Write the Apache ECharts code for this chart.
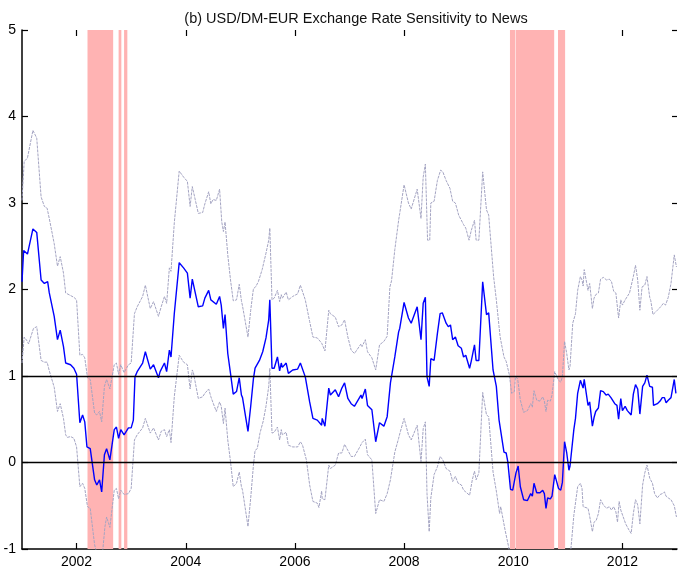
<!DOCTYPE html>
<html>
<head>
    <meta charset="utf-8">
    <title>USD/DM-EUR sensitivity</title>
    <script src="https://cdn.jsdelivr.net/npm/echarts@6/dist/echarts.min.js"></script>
    <style>
        html, body { margin: 0; padding: 0; background: #fff; }
        #main { width: 678px; height: 569px; }
    </style>
</head>
<body>
<div id="main"></div>
<script>
    // x ticks and recession periods (fractional years)
    var yearTicks = [2002, 2004, 2006, 2008, 2010, 2012];
    var recessions = [[2002.20, 2002.67], [2002.77, 2002.82], [2002.87, 2002.93],
                      [2009.94, 2010.04], [2010.05, 2010.75], [2010.82, 2010.95]];

    // estimated sensitivity (blue)
    var sensitivity = [[2001.00,2.09],[2001.03,2.45],[2001.10,2.41],[2001.12,2.41],[2001.20,2.70],[2001.27,2.66],[2001.35,2.11],[2001.41,2.07],[2001.47,2.09],[2001.50,1.96],[2001.52,1.97],[2001.59,1.69],[2001.65,1.42],[2001.70,1.53],[2001.76,1.34],[2001.80,1.15],[2001.83,1.13],[2001.89,1.13],[2001.95,1.09],[2002.00,1.02],[2002.06,0.46],[2002.11,0.55],[2002.15,0.47],[2002.19,0.18],[2002.25,0.16],[2002.33,-0.20],[2002.37,-0.26],[2002.42,-0.20],[2002.46,-0.34],[2002.51,0.09],[2002.55,0.16],[2002.61,0.03],[2002.69,0.38],[2002.73,0.41],[2002.77,0.28],[2002.81,0.38],[2002.87,0.32],[2002.95,0.40],[2003.00,0.40],[2003.04,0.49],[2003.07,0.99],[2003.11,1.05],[2003.21,1.15],[2003.26,1.28],[2003.28,1.27],[2003.35,1.08],[2003.41,1.13],[2003.44,1.11],[2003.50,0.98],[2003.53,1.05],[2003.61,1.15],[2003.65,1.05],[2003.70,1.30],[2003.73,1.22],[2003.79,1.72],[2003.88,2.31],[2003.96,2.25],[2004.03,2.19],
        [2004.08,1.90],[2004.12,2.12],[2004.14,2.11],[2004.23,1.80],[2004.31,1.81],[2004.35,1.90],[2004.42,1.99],[2004.46,1.88],[2004.48,1.87],[2004.56,1.83],[2004.62,1.92],[2004.65,1.82],[2004.69,1.55],[2004.72,1.71],[2004.77,1.26],[2004.82,1.03],[2004.87,0.79],[2004.93,0.82],[2004.98,0.98],[2005.02,0.78],[2005.04,0.75],[2005.14,0.36],[2005.19,0.65],[2005.24,0.97],[2005.27,1.09],[2005.29,1.08],[2005.35,1.18],[2005.41,1.28],[2005.47,1.44],[2005.52,1.65],[2005.54,1.88],[2005.58,1.09],[2005.62,1.09],[2005.68,1.22],[2005.72,1.06],[2005.75,1.15],[2005.77,1.10],[2005.84,1.15],[2005.88,1.03],[2005.96,1.07],[2006.05,1.08],[2006.10,1.15],[2006.12,1.14],[2006.19,0.99],[2006.27,0.70],[2006.33,0.51],[2006.41,0.49],[2006.44,0.51],[2006.49,0.43],[2006.50,0.51],[2006.55,0.42],[2006.57,0.42],[2006.62,0.86],[2006.65,0.78],[2006.74,0.84],[2006.80,0.76],[2006.86,0.86],[2006.91,0.92],[2006.97,0.74],[2007.03,0.68],[2007.09,0.65],
        [2007.21,0.78],[2007.23,0.74],[2007.29,0.85],[2007.33,0.66],[2007.41,0.61],[2007.48,0.24],[2007.55,0.46],[2007.63,0.42],[2007.69,0.53],[2007.75,0.92],[2007.77,0.92],[2007.83,1.22],[2007.90,1.51],[2007.92,1.55],[2008.00,1.85],[2008.02,1.86],[2008.08,1.67],[2008.10,1.66],[2008.13,1.61],[2008.24,1.80],[2008.31,1.42],[2008.35,1.84],[2008.39,1.91],[2008.42,0.99],[2008.46,0.88],[2008.49,1.20],[2008.55,1.18],[2008.61,1.49],[2008.66,1.72],[2008.70,1.73],[2008.77,1.61],[2008.81,1.57],[2008.85,1.59],[2008.89,1.42],[2008.94,1.45],[2008.99,1.35],[2009.05,1.32],[2009.09,1.22],[2009.13,1.24],[2009.20,1.09],[2009.23,1.17],[2009.29,1.36],[2009.32,1.18],[2009.37,1.18],[2009.44,2.09],[2009.51,1.71],[2009.55,1.73],[2009.63,1.07],[2009.69,0.88],[2009.74,0.49],[2009.76,0.47],[2009.83,0.12],[2009.87,0.11],[2009.90,0.01],[2009.95,-0.31],[2009.99,-0.32],
        [2010.05,-0.12],[2010.09,-0.04],[2010.13,-0.28],[2010.19,-0.43],[2010.26,-0.44],[2010.32,-0.36],[2010.35,-0.39],[2010.38,-0.24],[2010.43,-0.35],[2010.49,-0.35],[2010.54,-0.32],[2010.57,-0.36],[2010.60,-0.53],[2010.63,-0.41],[2010.68,-0.42],[2010.71,-0.39],[2010.76,-0.14],[2010.79,-0.16],[2010.83,-0.30],[2010.87,-0.32],[2010.90,-0.23],[2010.94,0.24],[2010.98,0.11],[2011.02,-0.09],[2011.04,-0.04],[2011.11,0.38],[2011.14,0.51],[2011.18,0.80],[2011.23,0.95],[2011.26,0.96],[2011.28,0.86],[2011.30,0.96],[2011.37,0.66],[2011.40,0.70],[2011.45,0.42],[2011.48,0.52],[2011.51,0.59],[2011.56,0.63],[2011.60,0.83],[2011.65,0.82],[2011.70,0.78],[2011.74,0.79],[2011.79,0.75],[2011.82,0.76],[2011.86,0.68],[2011.90,0.66],[2011.93,0.50],[2011.97,0.74],[2012.00,0.60],[2012.05,0.65],[2012.09,0.60],[2012.16,0.55],[2012.20,0.79],[2012.24,0.90],[2012.28,0.85],[2012.32,0.56],[2012.37,0.88],[2012.41,0.92],[2012.45,1.01],[2012.50,0.88],[2012.55,0.87],[2012.57,0.66],[2012.64,0.68],[2012.69,0.71],[2012.73,0.75],[2012.77,0.75],[2012.80,0.69],[2012.84,0.72],[2012.89,0.75],[2012.95,0.96],[2012.98,0.80]];

    // upper confidence band
    var upperBand = [[2001.00,3.03],[2001.04,3.48],[2001.10,3.52],[2001.20,3.84],[2001.27,3.75],[2001.35,3.07],[2001.41,2.96],[2001.46,2.94],[2001.50,2.82],[2001.52,2.84],[2001.59,2.53],[2001.65,2.27],[2001.70,2.38],[2001.76,2.19],[2001.80,1.96],[2001.83,1.97],[2001.89,1.93],[2001.95,1.91],[2002.00,1.88],[2002.06,1.24],[2002.11,1.25],[2002.15,1.21],[2002.20,0.98],[2002.25,0.96],[2002.33,0.57],[2002.37,0.55],[2002.42,0.59],[2002.46,0.47],[2002.51,0.88],[2002.55,0.96],[2002.61,0.85],[2002.69,1.13],[2002.73,1.15],[2002.77,1.02],[2002.81,1.13],[2002.87,1.04],[2002.95,1.13],[2003.00,1.15],[2003.06,1.72],[2003.11,1.80],[2003.21,1.92],[2003.26,2.05],[2003.28,2.03],[2003.35,1.78],[2003.41,1.86],[2003.44,1.84],[2003.50,1.69],[2003.55,1.80],[2003.61,1.92],[2003.65,1.84],[2003.70,2.25],[2003.73,2.21],[2003.79,2.77],[2003.88,3.37],[2003.96,3.30],[2004.03,3.25],
        [2004.08,2.96],[2004.12,3.19],[2004.14,3.17],[2004.23,2.88],[2004.31,2.89],[2004.35,2.99],[2004.42,3.13],[2004.46,2.99],[2004.50,3.04],[2004.56,3.03],[2004.62,3.16],[2004.66,2.78],[2004.69,2.67],[2004.72,2.78],[2004.77,2.40],[2004.82,2.11],[2004.87,1.87],[2004.93,1.88],[2004.98,2.06],[2005.02,1.87],[2005.04,1.81],[2005.14,1.45],[2005.19,1.76],[2005.24,2.01],[2005.28,2.03],[2005.33,2.09],[2005.40,2.23],[2005.47,2.42],[2005.52,2.57],[2005.54,2.71],[2005.58,1.88],[2005.62,1.90],[2005.68,1.99],[2005.72,1.86],[2005.75,1.94],[2005.77,1.90],[2005.84,1.97],[2005.88,1.88],[2005.96,1.92],[2006.05,1.95],[2006.10,2.05],[2006.12,2.03],[2006.19,1.88],[2006.27,1.63],[2006.33,1.45],[2006.41,1.44],[2006.44,1.45],[2006.49,1.38],[2006.55,1.29],[2006.57,1.29],[2006.62,1.76],[2006.65,1.72],[2006.74,1.68],[2006.80,1.57],[2006.86,1.59],[2006.91,1.65],[2006.97,1.45],[2007.03,1.30],[2007.09,1.26],
        [2007.21,1.37],[2007.23,1.34],[2007.29,1.42],[2007.33,1.28],[2007.41,1.21],[2007.48,1.07],[2007.55,1.36],[2007.63,1.40],[2007.69,1.46],[2007.74,2.03],[2007.77,2.10],[2007.83,2.46],[2007.90,2.80],[2007.92,2.88],[2008.00,3.21],[2008.02,3.23],[2008.08,3.00],[2008.10,2.98],[2008.13,2.93],[2008.24,3.16],[2008.31,2.82],[2008.35,3.30],[2008.39,3.45],[2008.43,2.57],[2008.47,2.57],[2008.49,3.00],[2008.55,3.02],[2008.61,3.26],[2008.67,3.38],[2008.71,3.36],[2008.77,3.26],[2008.84,3.17],[2008.89,3.02],[2008.94,3.00],[2009.00,2.86],[2009.09,2.75],[2009.13,2.71],[2009.19,2.57],[2009.23,2.68],[2009.29,2.80],[2009.32,2.57],[2009.37,2.57],[2009.44,3.36],[2009.51,2.92],[2009.55,2.86],[2009.64,2.15],[2009.69,1.88],[2009.74,1.57],[2009.76,1.45],[2009.83,1.22],[2009.87,1.17],[2009.93,1.01],[2009.97,0.80],[2010.02,0.82],
        [2010.04,0.99],[2010.08,0.97],[2010.13,0.72],[2010.19,0.58],[2010.26,0.60],[2010.32,0.68],[2010.35,0.64],[2010.38,0.83],[2010.43,0.72],[2010.49,0.71],[2010.54,0.76],[2010.57,0.71],[2010.60,0.59],[2010.63,0.72],[2010.68,0.71],[2010.71,0.78],[2010.76,1.05],[2010.79,1.03],[2010.83,0.95],[2010.87,0.93],[2010.90,0.99],[2010.94,1.40],[2010.98,1.26],[2011.02,1.07],[2011.04,1.11],[2011.09,1.61],[2011.14,1.72],[2011.18,1.99],[2011.23,2.15],[2011.26,2.11],[2011.28,2.04],[2011.30,2.23],[2011.37,1.99],[2011.40,2.07],[2011.45,1.78],[2011.48,1.90],[2011.51,1.94],[2011.56,1.96],[2011.60,2.12],[2011.65,2.14],[2011.71,2.11],[2011.76,2.12],[2011.80,2.09],[2011.84,1.98],[2011.88,1.96],[2011.93,1.67],[2011.97,1.88],[2012.00,1.82],[2012.05,1.88],[2012.09,1.92],[2012.13,1.96],[2012.20,2.15],[2012.24,2.28],[2012.28,2.11],[2012.32,1.76],[2012.36,2.03],[2012.41,2.05],[2012.45,2.15],[2012.50,1.91],[2012.52,1.87],[2012.56,1.71],[2012.64,1.76],[2012.70,1.80],[2012.75,1.84],[2012.79,1.82],[2012.84,1.91],[2012.89,2.07],[2012.95,2.40],[2012.99,2.26]];

    // lower confidence band
    var lowerBand = [[2001.00,1.15],[2001.04,1.45],[2001.10,1.40],[2001.12,1.37],[2001.21,1.55],[2001.27,1.57],[2001.35,1.18],[2001.41,1.16],[2001.46,1.16],[2001.50,1.06],[2001.52,1.07],[2001.59,0.87],[2001.65,0.59],[2001.70,0.68],[2001.76,0.51],[2001.80,0.32],[2001.83,0.29],[2001.89,0.30],[2001.95,0.28],[2002.00,0.18],[2002.06,-0.28],[2002.11,-0.24],[2002.15,-0.30],[2002.20,-0.51],[2002.25,-0.53],[2002.33,-0.95],[2002.37,-1.05],[2002.42,-1.05],[2002.46,-1.15],[2002.52,-0.74],[2002.55,-0.63],[2002.61,-0.75],[2002.69,-0.32],[2002.73,-0.30],[2002.77,-0.42],[2002.81,-0.32],[2002.87,-0.37],[2002.95,-0.36],[2003.00,-0.30],[2003.06,0.26],[2003.11,0.32],[2003.21,0.40],[2003.26,0.51],[2003.28,0.49],[2003.35,0.34],[2003.41,0.40],[2003.44,0.38],[2003.50,0.26],[2003.55,0.36],[2003.61,0.38],[2003.65,0.30],[2003.70,0.38],[2003.73,0.23],[2003.79,0.76],[2003.88,1.24],[2003.96,1.16],[2004.03,1.13],
        [2004.08,0.85],[2004.12,1.07],[2004.14,1.04],[2004.23,0.74],[2004.31,0.76],[2004.35,0.80],[2004.42,0.85],[2004.46,0.76],[2004.50,0.69],[2004.56,0.59],[2004.62,0.70],[2004.65,0.65],[2004.69,0.45],[2004.72,0.63],[2004.77,0.26],[2004.82,0.01],[2004.87,-0.28],[2004.93,-0.24],[2004.98,-0.11],[2005.02,-0.28],[2005.04,-0.32],[2005.14,-0.74],[2005.19,-0.41],[2005.24,-0.03],[2005.27,0.14],[2005.31,0.16],[2005.36,0.34],[2005.42,0.48],[2005.47,0.65],[2005.52,0.88],[2005.54,1.09],[2005.58,0.34],[2005.62,0.35],[2005.68,0.41],[2005.72,0.26],[2005.75,0.38],[2005.77,0.32],[2005.84,0.35],[2005.88,0.20],[2005.96,0.18],[2006.05,0.18],[2006.10,0.24],[2006.14,0.20],[2006.21,0.03],[2006.27,-0.26],[2006.33,-0.45],[2006.41,-0.47],[2006.44,-0.52],[2006.49,-0.33],[2006.50,-0.42],[2006.55,-0.43],[2006.62,-0.03],[2006.65,-0.07],[2006.74,-0.03],[2006.80,0.11],[2006.86,0.11],[2006.91,0.21],[2006.97,0.14],[2007.03,0.07],[2007.09,0.07],
        [2007.18,0.17],[2007.23,0.23],[2007.29,0.27],[2007.33,0.09],[2007.41,0.03],[2007.48,-0.59],[2007.55,-0.43],[2007.63,-0.45],[2007.69,-0.36],[2007.75,-0.20],[2007.83,0.12],[2007.90,0.28],[2007.92,0.33],[2008.00,0.51],[2008.02,0.53],[2008.08,0.32],[2008.10,0.32],[2008.13,0.26],[2008.24,0.43],[2008.31,0.01],[2008.35,0.39],[2008.39,0.47],[2008.42,-0.36],[2008.46,-0.80],[2008.49,-0.41],[2008.55,-0.14],[2008.61,-0.05],[2008.66,0.07],[2008.71,0.03],[2008.77,-0.07],[2008.84,-0.10],[2008.89,-0.22],[2008.94,-0.16],[2008.99,-0.24],[2009.05,-0.26],[2009.09,-0.32],[2009.13,-0.34],[2009.20,-0.38],[2009.25,-0.20],[2009.29,-0.10],[2009.32,-0.20],[2009.37,-0.12],[2009.44,0.81],[2009.51,0.55],[2009.55,0.53],[2009.63,-0.11],[2009.69,-0.33],[2009.75,-0.59],[2009.77,-0.51],[2009.85,-0.78],[2009.92,-0.99],[2009.97,-1.45],
        [2010.05,-1.25],[2010.19,-1.60],[2010.38,-1.40],[2010.60,-1.70],[2010.76,-1.30],[2010.87,-1.50],[2010.94,-1.05],[2011.02,-1.25],[2011.07,-0.90],[2011.11,-0.61],[2011.18,-0.28],[2011.23,-0.24],[2011.26,-0.30],[2011.28,-0.51],[2011.37,-0.53],[2011.40,-0.62],[2011.45,-0.80],[2011.48,-0.69],[2011.52,-0.67],[2011.56,-0.59],[2011.60,-0.43],[2011.65,-0.49],[2011.71,-0.53],[2011.76,-0.51],[2011.80,-0.55],[2011.84,-0.51],[2011.88,-0.57],[2011.91,-0.69],[2011.94,-0.45],[2011.97,-0.55],[2012.00,-0.57],[2012.06,-0.71],[2012.12,-0.78],[2012.16,-0.82],[2012.20,-0.59],[2012.24,-0.43],[2012.28,-0.49],[2012.32,-0.71],[2012.37,-0.26],[2012.41,-0.12],[2012.45,-0.03],[2012.50,-0.18],[2012.55,-0.24],[2012.59,-0.36],[2012.64,-0.41],[2012.69,-0.37],[2012.73,-0.36],[2012.77,-0.34],[2012.80,-0.39],[2012.84,-0.41],[2012.89,-0.43],[2012.95,-0.50],[2012.99,-0.63]];

    var refLines = [0, 1];

    var font = 'Liberation Sans, Arial, sans-serif';
    var chart = echarts.init(document.getElementById('main'));

    var areas = recessions.map(function (r) {
        return [{ xAxis: r[0] }, { xAxis: r[1] }];
    });
    var bandStyle = { color: '#a4a4c2', width: 1, type: [3, 1] };

    var option = {
        animation: false,
        title: {
            text: '(b) USD/DM-EUR Exchange Rate Sensitivity to News',
            left: 351,
            textAlign: 'center',
            top: 6,
            textStyle: { fontFamily: font, fontSize: 14.5, fontWeight: 'normal', color: '#111' }
        },
        grid: { left: 22, right: 1, top: 30, bottom: 20 },
        xAxis: [{
            type: 'value', min: 2001, max: 2013,
            axisLine: { onZero: false, lineStyle: { color: '#000', width: 1.5 } },
            axisTick: { inside: true, length: 6, customValues: yearTicks, lineStyle: { color: '#000', width: 1.2 } },
            axisLabel: { customValues: yearTicks, formatter: function (v) { return String(v); },
                         fontFamily: font, fontSize: 14, color: '#000', margin: 6 },
            splitLine: { show: false }
        }, {
            type: 'value', min: 2001, max: 2013, position: 'top',
            axisLine: { show: false, onZero: false },
            axisTick: { inside: true, length: 6, customValues: yearTicks, lineStyle: { color: '#000', width: 1.2 } },
            axisLabel: { show: false },
            splitLine: { show: false }
        }],
        yAxis: [{
            type: 'value', min: -1, max: 5, interval: 1,
            axisLine: { show: true, onZero: false, lineStyle: { color: '#000', width: 1.5 } },
            axisTick: { show: true, inside: true, length: 6, lineStyle: { color: '#000', width: 1.2 } },
            axisLabel: { fontFamily: font, fontSize: 14, color: '#000', margin: 6 },
            splitLine: { show: false }
        }, {
            type: 'value', min: -1, max: 5, interval: 1, position: 'right',
            axisLine: { show: false, onZero: false },
            axisTick: { show: true, inside: true, length: 5, lineStyle: { color: '#000', width: 1.2 } },
            axisLabel: { show: false },
            splitLine: { show: false }
        }],
        series: [{
            name: 'lower', type: 'line', data: lowerBand, showSymbol: false, z: 2,
            lineStyle: bandStyle,
            markArea: { silent: true, itemStyle: { color: '#ffb3b3', opacity: 1 }, data: areas }
        }, {
            name: 'upper', type: 'line', data: upperBand, showSymbol: false, z: 3,
            lineStyle: bandStyle
        }, {
            name: 'sensitivity', type: 'line', data: sensitivity, showSymbol: false, z: 4,
            lineStyle: { color: '#0000ff', width: 1.4 },
            markLine: {
                silent: true, symbol: ['none', 'none'], label: { show: false },
                lineStyle: { color: '#000', width: 1.4, type: 'solid' },
                data: refLines.map(function (v) { return { yAxis: v }; })
            }
        }]
    };
    chart.setOption(option);
</script>
</body>
</html>
